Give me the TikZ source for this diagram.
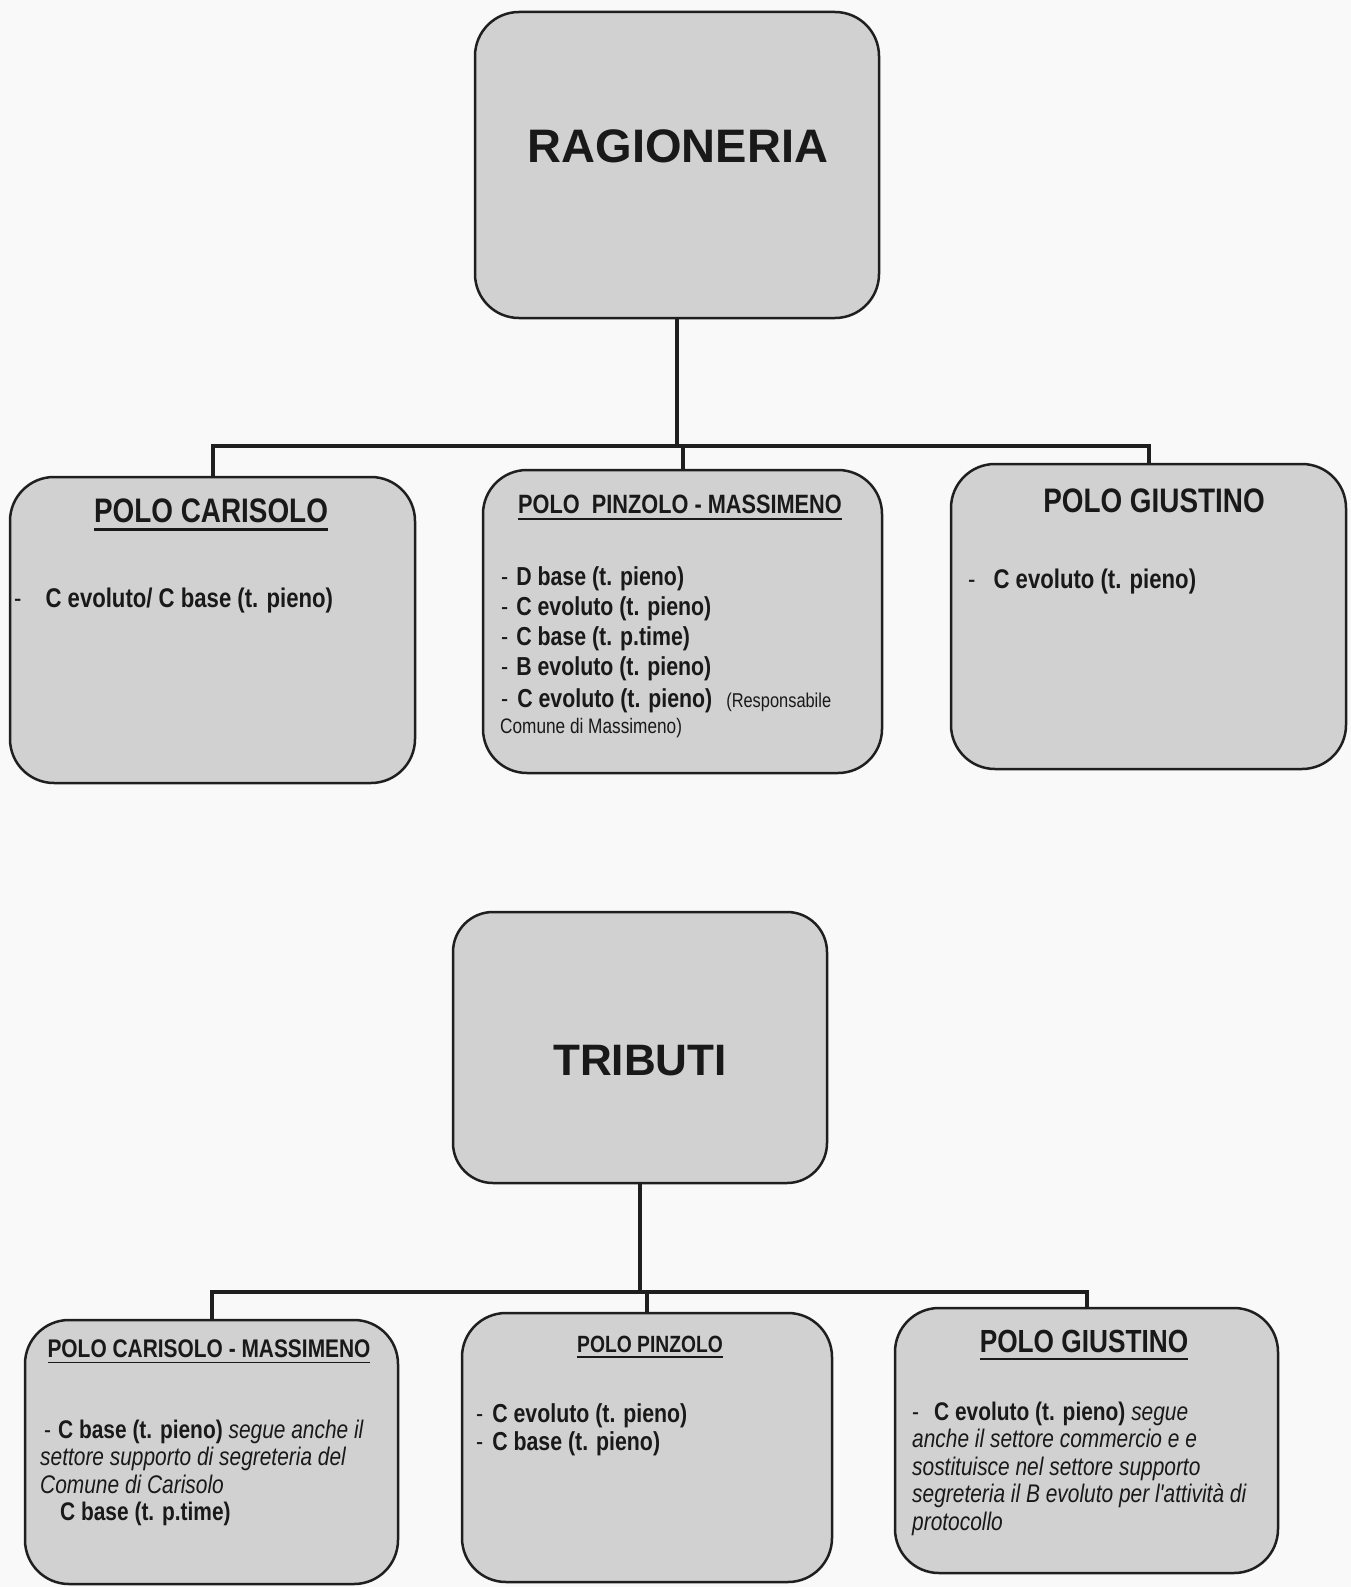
\documentclass[tikz,border=0pt]{standalone}
\usepackage{fontspec}
\setmainfont{Liberation Sans}
\newfontfamily\nar{Liberation Sans}[FakeStretch=0.82]
\newcommand\myul[1]{\setbox0\hbox{#1}\leavevmode\rlap{\rule[-0.25em]{\wd0}{0.07em}}\box0}
\tikzset{
  box/.style={draw=black!88, line width=2.5pt, fill=gray!36, rounded corners=44pt, inner sep=0pt},
  conn/.style={draw=black!88, line width=4pt},
  ttl/.style={anchor=base, inner sep=0pt, text=black!90},
  txt/.style={anchor=base west, inner sep=0pt, text=black!90},
  big/.style={font=\bfseries\fontsize{#1}{#1}\selectfont},
  nb/.style={font=\nar\bfseries\fontsize{#1}{#1}\selectfont},
  nr/.style={font=\nar\fontsize{#1}{#1}\selectfont}
}
\begin{document}
\begin{tikzpicture}[x=1pt,y=-1pt]
\fill[gray!5] (0,0) rectangle (1351,1587);
\useasboundingbox (0,0) rectangle (1351,1587);

% ---------------- RAGIONERIA ----------------
\node[box, minimum width=404pt, minimum height=306pt] (rag) at (677,165) {};
\node[ttl, big=47] (ragt) at (678,162) {RAGIONERIA};

\node[box, minimum width=405pt, minimum height=306pt] (c1) at (212.5,630) {};
\node[box, minimum width=399pt, minimum height=303pt] (c2) at (682.5,621.5) {};
\node[box, minimum width=395pt, minimum height=305pt] (c3) at (1148.5,616.5) {};

\coordinate (h1) at (0,446);
\draw[conn] (rag.south) -- (rag.south |- h1);
\draw[conn] (c1.north) -- (c1.north |- h1) -- (c3.north |- h1) -- (c3.north);
\draw[conn] (c2.north) -- (c2.north |- h1);

% Polo Carisolo
\node[ttl, nb=34] (c1t) at (211,522) {\myul{POLO CARISOLO}};
\node[txt, nr=27] (c1a) at (14,607) {-\hspace{24pt}\textbf{C evoluto/ C base (t. pieno)}};

% Polo Pinzolo - Massimeno
\node[ttl, nb=26.5] (c2t) at (680,513) {\myul{POLO\ \ PINZOLO - MASSIMENO}};
\node[txt, nr=26] (c2a) at (501,585) {-\hspace{8pt}\textbf{D base (t. pieno)}};
\node[txt, nr=26] (c2b) at (501,615) {-\hspace{8pt}\textbf{C evoluto (t. pieno)}};
\node[txt, nr=26] (c2c) at (501,645) {-\hspace{8pt}\textbf{C base (t. p.time)}};
\node[txt, nr=26] (c2d) at (501,675) {-\hspace{8pt}\textbf{B evoluto (t. pieno)}};
\node[txt, nr=26] (c2e) at (501,707) {-\hspace{9pt}\textbf{C evoluto (t. pieno)}\hspace{14pt}{\fontsize{20}{20}\selectfont (Responsabile}};
\node[txt, nr=21] (c2f) at (500,733) {Comune di Massimeno)};

% Polo Giustino
\node[ttl, nb=34] (c3t) at (1154,512) {POLO GIUSTINO};
\node[txt, nr=27] (c3a) at (968,588) {-\hspace{18pt}\textbf{C evoluto (t. pieno)}};

% ---------------- TRIBUTI ----------------
\node[box, minimum width=374pt, minimum height=271pt, rounded corners=40pt] (trib) at (640,1047.5) {};
\node[ttl, big=44] (tribt) at (640,1075) {TRIBUTI};

\node[box, minimum width=373pt, minimum height=264pt] (d1) at (211.5,1452) {};
\node[box, minimum width=370pt, minimum height=269pt] (d2) at (647,1447.5) {};
\node[box, minimum width=383pt, minimum height=265pt] (d3) at (1086.5,1440.5) {};

\coordinate (h2) at (0,1292);
\draw[conn] (trib.south) -- (trib.south |- h2);
\draw[conn] (d1.north) -- (d1.north |- h2) -- (d3.north |- h2) -- (d3.north);
\draw[conn] (d2.north) -- (d2.north |- h2);

% Polo Carisolo - Massimeno
\node[ttl, nb=25.5] (d1t) at (209,1357) {\myul{POLO CARISOLO - MASSIMENO}};
\node[txt, nr=25.5] (d1a) at (44,1438) {-\hspace{7pt}\textbf{C base (t. pieno)} \textit{segue anche il}};
\node[txt, nr=25.5] (d1b) at (40,1465) {\textit{settore supporto di segreteria del}};
\node[txt, nr=25.5] (d1c) at (40,1493) {\textit{Comune di Carisolo}};
\node[txt, nr=25.5] (d1d) at (60,1520) {\textbf{C base (t. p.time)}};

% Polo Pinzolo
\node[ttl, nb=23.5] (d2t) at (650,1352) {\myul{POLO PINZOLO}};
\node[txt, nr=26] (d2a) at (476,1422) {-\hspace{9pt}\textbf{C evoluto (t. pieno)}};
\node[txt, nr=26] (d2b) at (476,1450) {-\hspace{9pt}\textbf{C base (t. pieno)}};

% Polo Giustino
\node[ttl, nb=32] (d3t) at (1084,1352) {\myul{POLO GIUSTINO}};
\node[txt, nr=25.5] (d3a) at (912,1420) {-\hspace{15pt}\textbf{C evoluto (t. pieno)} \textit{segue}};
\node[txt, nr=25.5] (d3b) at (912,1447) {\textit{anche il settore commercio e e}};
\node[txt, nr=25.5] (d3c) at (912,1475) {\textit{sostituisce nel settore supporto}};
\node[txt, nr=25.5] (d3d) at (912,1502) {\textit{segreteria il B evoluto per l'attività di}};
\node[txt, nr=25.5] (d3e) at (912,1530) {\textit{protocollo}};
\end{tikzpicture}
\end{document}
